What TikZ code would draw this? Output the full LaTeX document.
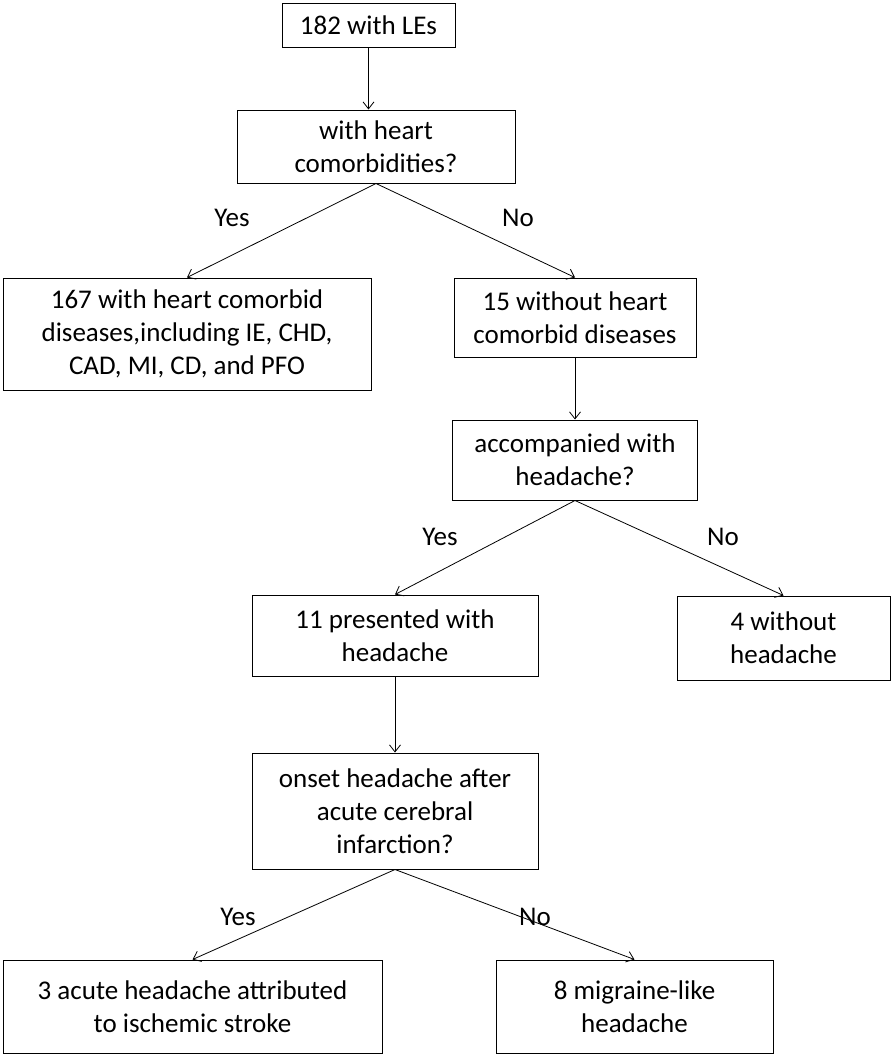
\documentclass[tikz,border=0pt]{standalone}
\usepackage{fontspec}
\setmainfont{Carlito}
\usetikzlibrary{arrows.meta}
\tikzset{
    %Define standard arrow tip
    >={Straight Barb[length=7pt,width=11pt]},
    %Define style for boxes
    box/.style={
           rectangle,
           draw=black, line width=1pt,
           inner sep=0pt,
           align=center,
           font=\fontsize{27}{33}\selectfont},
    % Define label style
    lab/.style={
           font=\fontsize{27}{33}\selectfont},
    % Define arrow style
    imply/.style={
           ->,
           line width=0.8pt}
}
\begin{document}
\begin{tikzpicture}[x=1pt,y=-1pt]
 \useasboundingbox (0,0) rectangle (893,1058);
 %nodes
    \node[box, minimum width=173, minimum height=44] (start) at (368.5,25) {182 with LEs};
    \node[box, minimum width=278, minimum height=73] (heart) at (376,146.5) {with heart\\comorbidities?};
    \node[box, minimum width=368, minimum height=112] (withh) at (187,334) {167 with heart comorbid\\diseases,including IE, CHD,\\CAD, MI, CD, and PFO};
    \node[box, minimum width=242, minimum height=79] (withouth) at (575,317.5) {15 without heart\\comorbid diseases};
    \node[box, minimum width=245, minimum height=80] (head) at (575,460) {accompanied with\\headache?};
    \node[box, minimum width=286, minimum height=81] (pres) at (395,635.5) {11 presented with\\headache};
    \node[box, minimum width=213, minimum height=84] (nohead) at (783.5,638) {4 without\\headache};
    \node[box, minimum width=286, minimum height=116] (onset) at (395,811) {onset headache after\\acute cerebral\\infarction?};
    \node[box, minimum width=379, minimum height=93] (acute) at (192.5,1006.5) {3 acute headache attributed\\to ischemic stroke};
    \node[box, minimum width=277, minimum height=93] (migr) at (634.5,1006.5) {8 migraine-like\\headache};
 %labels
    \node[lab] (yes1) at (232,218) {Yes};
    \node[lab] (no1) at (518,218) {No};
    \node[lab] (yes2) at (440,537) {Yes};
    \node[lab] (no2) at (723,537) {No};
    \node[lab] (yes3) at (238,917) {Yes};
    \node[lab] (no3) at (535,917) {No};
 %edges
    \draw[imply] (start.south) -- (start.south |- heart.north);
    \draw[imply] (heart.south) -- (withh.north);
    \draw[imply] (heart.south) -- (withouth.north);
    \draw[imply] (withouth) -- (head);
    \draw[imply] (head.south) -- (pres.north);
    \draw[imply] (head.south) -- (nohead.north);
    \draw[imply] (pres) -- (onset);
    \draw[imply] (onset.south) -- (acute.north);
    \draw[imply] (onset.south) -- (migr.north);
\end{tikzpicture}
\end{document}
